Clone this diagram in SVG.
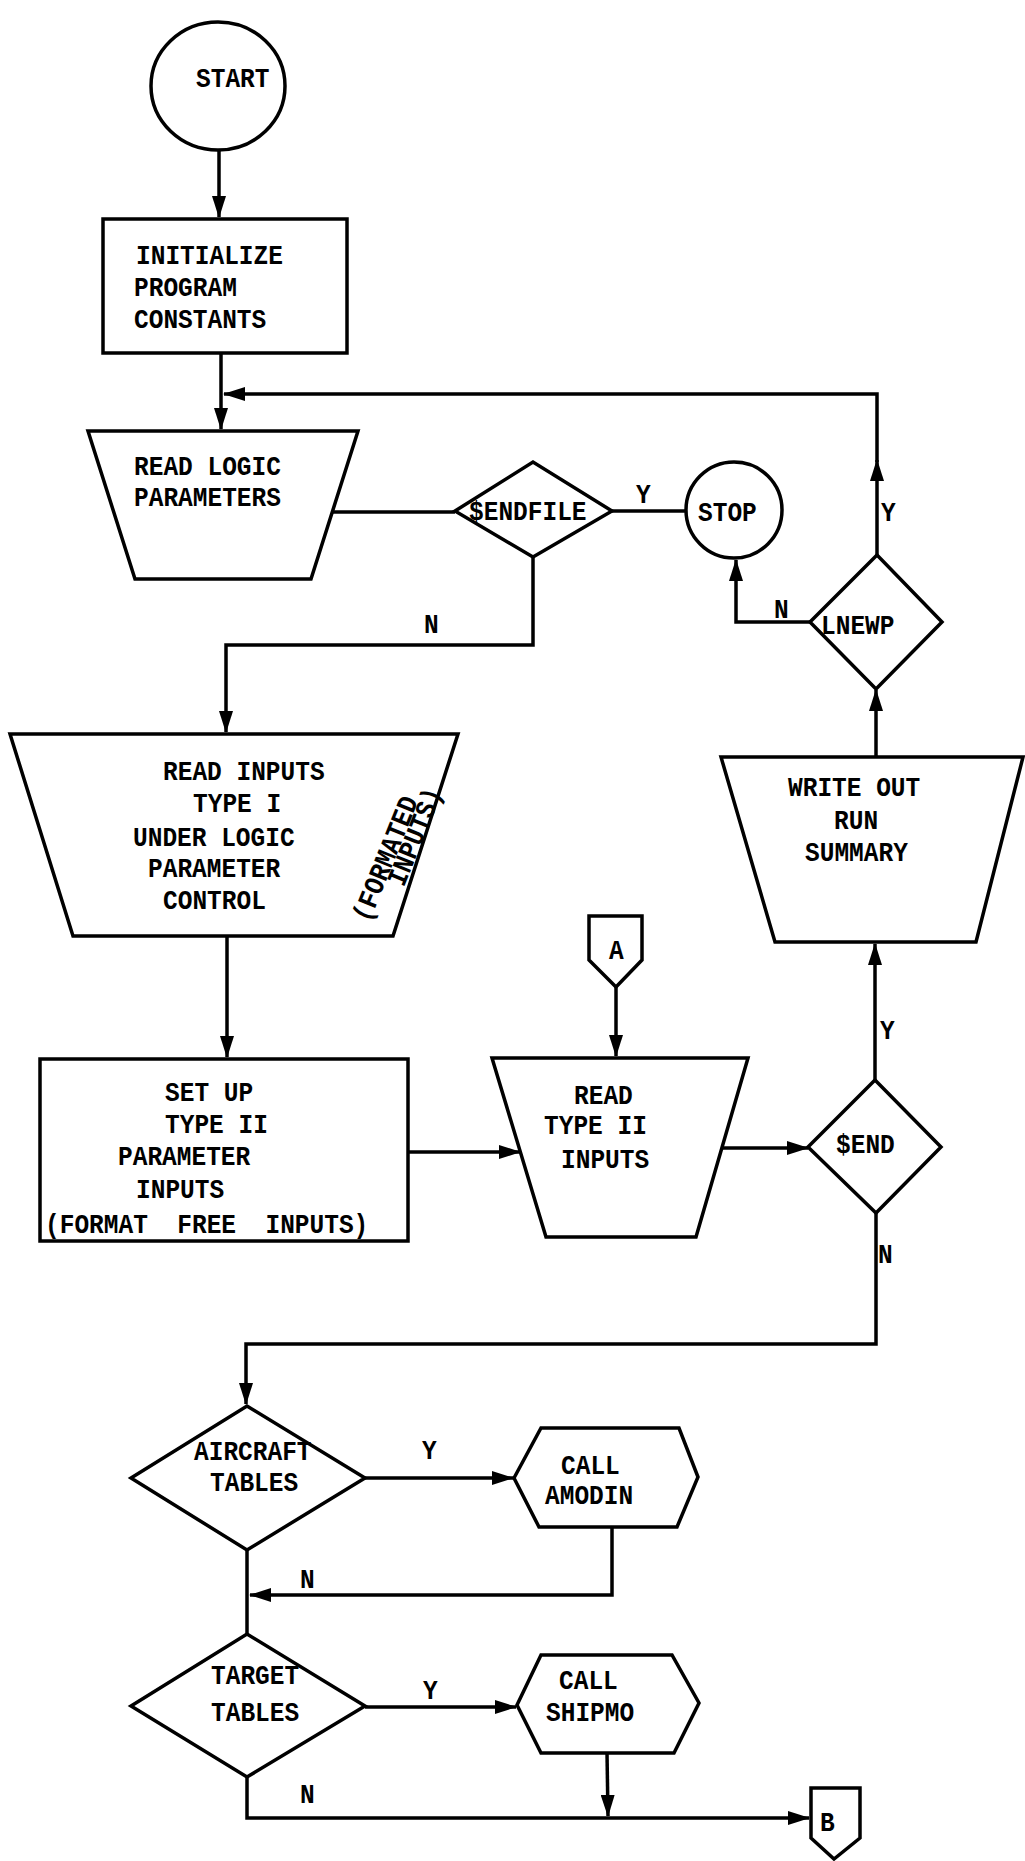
<svg xmlns="http://www.w3.org/2000/svg" width="1025" height="1861" viewBox="0 0 1025 1861">
<defs>
<style>
.s{fill:#fff;stroke:#000;stroke-width:3.5;stroke-linejoin:miter}
.c{fill:none;stroke:#000;stroke-width:3.5}
text{font-family:"Liberation Mono","Courier New",monospace;font-weight:bold;font-size:24.5px;fill:#000;white-space:pre;transform-box:fill-box;transform-origin:center;transform:scaleY(1.15)}
</style>
<marker id="ah" markerUnits="userSpaceOnUse" markerWidth="22" markerHeight="14" refX="21" refY="7" orient="auto">
<path d="M0,0 L22,7 L0,14 z" fill="#000"/>
</marker>
</defs>
<rect width="1025" height="1861" fill="#fff"/>
<g id="connectors">
<path class="c" d="M219,150 L219,217" marker-end="url(#ah)"/>
<path class="c" d="M221,353 L221,429" marker-end="url(#ah)"/>
<path class="c" d="M877,555 L877,460" marker-end="url(#ah)"/>
<path class="c" d="M877,462 L877,394 L224,394" marker-end="url(#ah)"/>
<path class="c" d="M333,512 L455,512"/>
<path class="c" d="M612,511 L686,511"/>
<path class="c" d="M533,557 L533,645 L226,645 L226,732" marker-end="url(#ah)"/>
<path class="c" d="M810,622 L736,622 L736,560" marker-end="url(#ah)"/>
<path class="c" d="M876,757 L876,690" marker-end="url(#ah)"/>
<path class="c" d="M227,936 L227,1057" marker-end="url(#ah)"/>
<path class="c" d="M408,1152 L520,1152" marker-end="url(#ah)"/>
<path class="c" d="M616,987 L616,1056" marker-end="url(#ah)"/>
<path class="c" d="M723,1148 L808,1148" marker-end="url(#ah)"/>
<path class="c" d="M875,1080 L875,944" marker-end="url(#ah)"/>
<path class="c" d="M876,1213 L876,1344 L246,1344 L246,1404" marker-end="url(#ah)"/>
<path class="c" d="M365,1478 L513,1478" marker-end="url(#ah)"/>
<path class="c" d="M612,1527 L612,1595 L250,1595" marker-end="url(#ah)"/>
<path class="c" d="M247,1550 L247,1634"/>
<path class="c" d="M365,1707 L516,1707" marker-end="url(#ah)"/>
<path class="c" d="M607,1753 L608,1816" marker-end="url(#ah)"/>
<path class="c" d="M247,1777 L247,1818 L809,1818" marker-end="url(#ah)"/>
</g>
<g id="labels">
<text x="636" y="502">Y</text>
<text x="424" y="632">N</text>
<text x="774" y="617">N</text>
<text x="881" y="520">Y</text>
<text x="880" y="1038">Y</text>
<text x="878" y="1262">N</text>
<text x="422" y="1458">Y</text>
<text x="300" y="1587">N</text>
<text x="423" y="1698">Y</text>
<text x="300" y="1802">N</text>
</g>
<g id="start">
<ellipse class="s" cx="218" cy="86" rx="67" ry="64"/>
<text x="196" y="86">START</text>
</g>
<g id="initialize">
<rect class="s" x="103" y="219" width="244" height="134"/>
<text x="136" y="263">INITIALIZE</text>
<text x="134" y="295">PROGRAM</text>
<text x="134" y="327">CONSTANTS</text>
</g>
<g id="read-logic">
<polygon class="s" points="88,431 358,431 311,579 135,579"/>
<text x="134" y="474">READ LOGIC</text>
<text x="134" y="505">PARAMETERS</text>
</g>
<g id="endfile">
<polygon class="s" points="455,511 533,462 612,511 533,557"/>
<text x="469" y="519">$ENDFILE</text>
</g>
<g id="stop">
<ellipse class="s" cx="734" cy="510" rx="48" ry="48"/>
<text x="698" y="520">STOP</text>
</g>
<g id="lnewp">
<polygon class="s" points="810,622 877,555 942,622 876,689"/>
<text x="821" y="633">LNEWP</text>
</g>
<g id="read-inputs">
<polygon class="s" points="10,734 458,734 393,936 73,936"/>
<text x="163" y="779">READ INPUTS</text>
<text x="193" y="811">TYPE I</text>
<text x="133" y="845">UNDER LOGIC</text>
<text x="148" y="876">PARAMETER</text>
<text x="163" y="908">CONTROL</text>
<g transform="translate(368,923) rotate(-68)">
<text x="0" y="0">(FORMATED</text>
<text x="46" y="19">INPUTS)</text>
</g>
</g>
<g id="write-out">
<polygon class="s" points="721,757 1023,757 976,942 775,942"/>
<text x="788" y="795">WRITE OUT</text>
<text x="834" y="828">RUN</text>
<text x="805" y="860">SUMMARY</text>
</g>
<g id="connector-a">
<polygon class="s" points="589,916 642,916 642,960 616,987 589,960"/>
<text x="609" y="958">A</text>
</g>
<g id="setup">
<rect class="s" x="40" y="1059" width="368" height="182"/>
<text x="165" y="1100">SET UP</text>
<text x="165" y="1132">TYPE II</text>
<text x="118" y="1164">PARAMETER</text>
<text x="136" y="1197">INPUTS</text>
<text x="45" y="1232">(FORMAT  FREE  INPUTS)</text>
</g>
<g id="read-type2">
<polygon class="s" points="492,1058 748,1058 696,1237 546,1237"/>
<text x="574" y="1103">READ</text>
<text x="544" y="1133">TYPE II</text>
<text x="561" y="1167">INPUTS</text>
</g>
<g id="end">
<polygon class="s" points="808,1147 875,1080 941,1147 876,1213"/>
<text x="836" y="1152">$END</text>
</g>
<g id="aircraft">
<polygon class="s" points="131,1478 247,1406 365,1478 247,1550"/>
<text x="194" y="1459">AIRCRAFT</text>
<text x="210" y="1490">TABLES</text>
</g>
<g id="amodin">
<polygon class="s" points="514,1478 541,1428 679,1428 698,1477 677,1527 539,1527"/>
<text x="561" y="1473">CALL</text>
<text x="545" y="1503">AMODIN</text>
</g>
<g id="target">
<polygon class="s" points="131,1706 247,1634 365,1706 247,1777"/>
<text x="211" y="1683">TARGET</text>
<text x="211" y="1720">TABLES</text>
</g>
<g id="shipmo">
<polygon class="s" points="517,1705 541,1655 672,1655 699,1703 674,1753 541,1753"/>
<text x="559" y="1688">CALL</text>
<text x="546" y="1720">SHIPMO</text>
</g>
<g id="connector-b">
<polygon class="s" points="811,1788 860,1788 860,1838 834,1859 811,1838"/>
<text x="820" y="1830">B</text>
</g>
</svg>
